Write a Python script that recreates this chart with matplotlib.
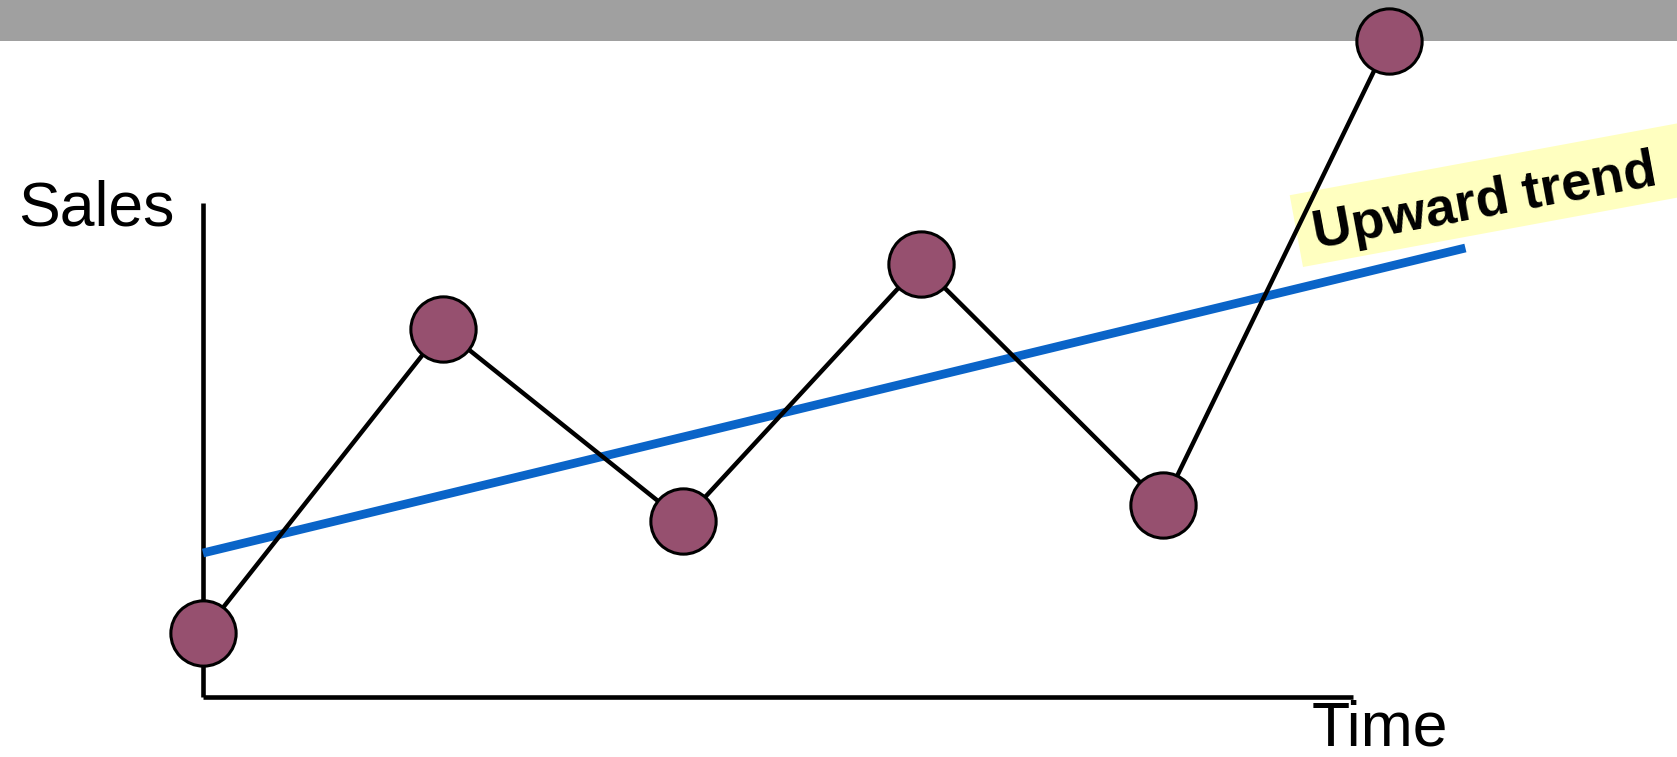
import matplotlib
matplotlib.use("Agg")
import matplotlib.pyplot as plt
import matplotlib.patches as patches
import matplotlib.transforms as mtransforms

plt.rcParams['font.family'] = ['Liberation Sans', 'DejaVu Sans']

# data (time in periods, sales in arbitrary units)
time = [0.0, 1.0, 2.0, 2.99, 4.0, 4.94]
sales = [1.28, 7.36, 3.52, 8.66, 3.84, 13.12]
trend_time = [0.0, 5.26]
trend_sales = [2.88, 8.98]
label_trend = "Upward trend"

W, H = 1677, 757
fig = plt.figure(figsize=(W / 100, H / 100), dpi=100)
ax = fig.add_axes([0, 0, 1, 1])
# 240 px per period, 50 px per sales unit, origin at pixel (203, 697)
ax.set_xlim(-203 / 240, (W - 203) / 240)
ax.set_ylim(-(H - 697) / 50, 697 / 50)
ax.axis('off')

# grey band at the top
ax.axhspan((697 - 41) / 50, 697 / 50, color='#a0a0a0', lw=0, zorder=0)

# yellow label box, rotated, in pixel coords
px = mtransforms.IdentityTransform()
box = patches.Rectangle((1303, H - 267), 500, 73, angle=10.5,
                        facecolor='#ffffc0', edgecolor='none', transform=px, zorder=1)
ax.add_patch(box)
ax.text(1316, H - 248, label_trend, transform=px, rotation=10.5,
        rotation_mode='anchor', ha='left', va='baseline',
        fontsize=39, fontweight='bold', color='black', zorder=2)

# axes lines
ax.plot([0, 0], [0, 9.88], color='black', lw=3.3, solid_capstyle='butt', zorder=3)
ax.plot([0, 4.79], [0, 0], color='black', lw=3.3, solid_capstyle='butt', zorder=3)

# trend line
ax.plot(trend_time, trend_sales, color='#0a64c8', lw=6.3, solid_capstyle='butt', zorder=4)

# sales line and points
ax.plot(time, sales, color='black', lw=3.2, zorder=5)
ax.plot(time, sales, linestyle='none', marker='o', markersize=47,
        markerfacecolor='#96506f', markeredgecolor='black', markeredgewidth=2.2, zorder=6)

flip = mtransforms.Affine2D().scale(1, -1).translate(0, H)
ax.text(18, 226, "Sales", transform=flip, fontsize=45, ha='left', va='baseline')
ax.text(1312, 745, "Time", transform=flip, fontsize=45, ha='left', va='baseline')

fig.savefig("out.png", dpi=100)
